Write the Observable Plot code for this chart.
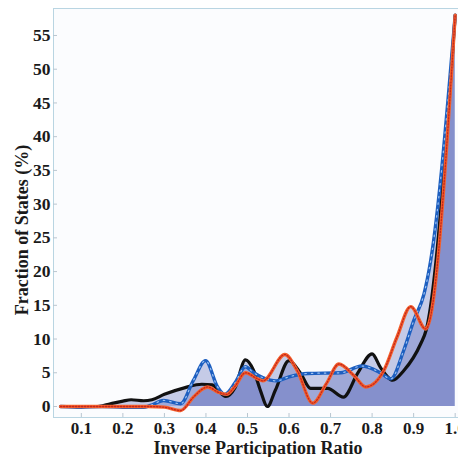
<!DOCTYPE html>
<html>
<head>
<meta charset="utf-8">
<script src="https://cdn.jsdelivr.net/npm/d3@7"></script>
<script src="https://cdn.jsdelivr.net/npm/@observablehq/plot@0.6"></script>
<style>
  html, body { margin: 0; padding: 0; background: #fff; }
  #chart svg { display: block; }
</style>
</head>
<body>
<div id="chart"></div>
<script>
// Series (IPR vs. fraction of states, %)
const xBlack = [0.05,0.10,0.14,0.17,0.20,0.22,0.25,0.27,0.30,0.35,0.39,0.415,0.448,0.47,0.495,0.515,0.531,0.548,0.567,0.60,0.628,0.652,0.693,0.731,0.765,0.80,0.82,0.85,0.876,0.917,0.93,1.00];
const yBlack = [0,0,0,0.4,0.8,1.0,0.85,1.0,1.8,2.8,3.3,3.2,1.5,2.8,6.9,5.3,2.4,0,2.4,6.8,4.9,2.7,2.7,1.4,4.9,7.8,5.8,3.9,5.3,9.3,11.3,58];

const xBlue = [0.05,0.10,0.15,0.20,0.25,0.266,0.298,0.339,0.37,0.399,0.428,0.445,0.47,0.495,0.515,0.555,0.57,0.60,0.645,0.725,0.775,0.82,0.845,0.876,0.90,0.925,0.941,1.00];
const yBlue = [0,-0.1,0,-0.1,-0.1,0.15,0.9,0.4,3.9,6.8,2.9,1.8,3.5,5.9,5.0,3.9,3.8,4.4,4.9,5.0,6.0,5.0,4.1,8.3,12.7,16.7,21.6,58];

const xOrange = [0.05,0.10,0.20,0.26,0.30,0.339,0.37,0.392,0.404,0.43,0.45,0.47,0.495,0.524,0.537,0.59,0.62,0.657,0.69,0.72,0.756,0.785,0.828,0.86,0.893,0.929,1.00];
const yOrange = [0,0,0,0,-0.1,-0.6,1.4,2.6,2.9,2.1,1.8,3.0,5.0,4.1,3.8,7.7,5.3,0.5,3.4,6.3,4.6,2.9,5.3,10.3,14.8,11.5,58];

const xTicks = [0.1,0.2,0.3,0.4,0.5,0.6,0.7,0.8,0.9,1.0];
const yTicks = [0,5,10,15,20,25,30,35,40,45,50,55];
const xTitle = "Inverse Participation Ratio";
const yTitle = "Fraction of States (%)";

const toRows = (xs, ys) => xs.map((x, i) => ({x, y: ys[i]}));
const black = toRows(xBlack, yBlack);
const blue = toRows(xBlue, yBlue);
const orange = toRows(xOrange, yOrange);

const font = "Liberation Serif, Times New Roman, serif";
const fillColor = "#4a58b4";
const curve = "monotone-x";

const chart = Plot.plot({
  width: 458,
  height: 457,
  marginLeft: 53,
  marginRight: 0,
  marginTop: 8,
  marginBottom: 40,
  style: {fontFamily: font, background: "#fff", overflow: "visible"},
  x: {domain: [0.033, 1.008]},
  y: {domain: [-1.63, 59]},
  marks: [
    Plot.frame({fill: "#fbfcfe", stroke: "#b9d5e2", strokeWidth: 1}),
    Plot.areaY(black, {x: "x", y: "y", curve, fill: fillColor, fillOpacity: 0.3}),
    Plot.areaY(blue, {x: "x", y: "y", curve, fill: fillColor, fillOpacity: 0.3}),
    Plot.areaY(orange, {x: "x", y: "y", curve, fill: fillColor, fillOpacity: 0.3}),
    Plot.axisX({ticks: xTicks, tickSize: -4, text: null, stroke: "#b9c6d0", label: null}),
    Plot.axisX({ticks: xTicks, tickSize: 0, tickPadding: 4, tickFormat: d3.format(".1f"), label: null,
      fontSize: 17, fontWeight: "bold", fill: "#1a1a1a"}),
    Plot.axisY({ticks: yTicks, tickSize: -4, text: null, stroke: "#b9c6d0", label: null}),
    Plot.axisY({ticks: yTicks, tickSize: 0, tickPadding: 3, label: null,
      fontSize: 17.5, fontWeight: "bold", fill: "#1a1a1a"}),
    Plot.line(black, {x: "x", y: "y", curve, stroke: "#111", strokeWidth: 3.2}),
    Plot.line(blue, {x: "x", y: "y", curve, stroke: "#1d5fc0", strokeWidth: 3.4}),
    Plot.line(blue, {x: "x", y: "y", curve, stroke: "#9cc2f2", strokeWidth: 1.2, strokeDasharray: "1.5,5"}),
    Plot.line(orange, {x: "x", y: "y", curve, stroke: "#f4602c", strokeWidth: 3.4}),
    Plot.line(orange, {x: "x", y: "y", curve, stroke: "#c4261c", strokeWidth: 1.3, strokeDasharray: "1.3,1.7"}),
    Plot.text([xTitle], {frameAnchor: "bottom", textAnchor: "middle", lineAnchor: "middle", dy: 31, dx: 2,
      fontSize: 18, fontWeight: "bold", fill: "#1a1a1a"}),
    Plot.text([yTitle], {frameAnchor: "left", textAnchor: "middle", lineAnchor: "middle", rotate: -90, dx: -31, dy: 17,
      fontSize: 18, fontWeight: "bold", fill: "#1a1a1a"})
  ]
});

document.getElementById("chart").appendChild(chart);
</script>
</body>
</html>
